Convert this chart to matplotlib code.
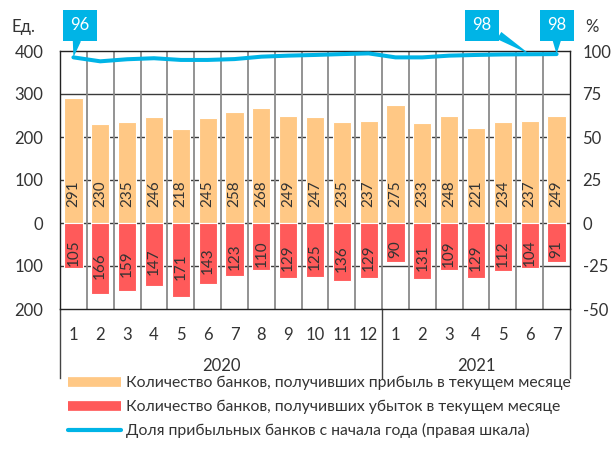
import matplotlib
matplotlib.use("Agg")
import matplotlib.pyplot as plt
from matplotlib.lines import Line2D
import numpy as np

# data
months = ["1", "2", "3", "4", "5", "6", "7", "8", "9", "10", "11", "12",
          "1", "2", "3", "4", "5", "6", "7"]
years = ["2020", "2021"]
year_len = [12, 7]
profit = [291, 230, 235, 246, 218, 245, 258, 268, 249, 247, 235, 237,
          275, 233, 248, 221, 234, 237, 249]
loss = [105, 166, 159, 147, 171, 143, 123, 110, 129, 125, 136, 129,
        90, 131, 109, 129, 112, 104, 91]
share = [96.3, 94.0, 95.2, 95.8, 94.8, 94.8, 95.3, 96.7, 97.3, 97.7, 98.2, 98.6,
         96.3, 96.3, 97.3, 97.7, 98.0, 98.1, 98.2]
callouts = [(0, "96"), (17, "98"), (18, "98")]

ORANGE = "#FFC885"
RED = "#FF5A5A"
BLUE = "#00B4E6"
TXT = "#333333"

plt.rcParams["font.family"] = ["Lato", "DejaVu Sans"]
plt.rcParams["axes.unicode_minus"] = False

fig = plt.figure(figsize=(6.12, 4.5), dpi=100)
ax = fig.add_axes([60 / 612, 1 - 309 / 450, 510 / 612, 258 / 450])
ax2 = ax.twinx()

x = np.arange(len(months))
ax.bar(x, profit, width=0.68, color=ORANGE, edgecolor="white", linewidth=0.8, zorder=3)
ax.bar(x, [-v for v in loss], width=0.68, color=RED, edgecolor="white", linewidth=0.8, zorder=3)

for i in range(len(months)):
    ax.text(x[i], 37, str(profit[i]), rotation=90, ha="center", va="bottom",
            fontsize=11, color=TXT, zorder=4)
    ax.text(x[i], -loss[i] / 2 - 16, str(loss[i]), rotation=90, ha="center", va="center",
            fontsize=11, color=TXT, zorder=4)

ax.set_xlim(-0.5, len(months) - 0.5)
ax.set_ylim(-200, 400)
ax.set_yticks([400, 300, 200, 100, 0, -100, -200])
ax.set_yticklabels(["400", "300", "200", "100", "0", "100", "200"])
ax.set_xticks(x)
ax.set_xticklabels(months)
ax.tick_params(axis="both", length=0, labelsize=12, colors=TXT)
ax.tick_params(axis="y", pad=12)
ax.tick_params(axis="x", pad=13)

# grid
for yv in [300, 200, 100, 0, -100]:
    ax.axhline(yv, color="#3a3a3a", lw=1.0, zorder=1)
for xv in np.arange(0.5, len(months) - 1, 1):
    ax.axvline(xv, color="#8a8a8a", lw=1.3, zorder=1)
for s in ax.spines.values():
    s.set_color("#222222")
    s.set_linewidth(1.0)
for s in ax2.spines.values():
    s.set_visible(False)

# year separators and labels below the axis
start = 0
bounds = [-0.5]
for n in year_len:
    bounds.append(start + n - 0.5)
    start += n
trans = ax.get_xaxis_transform()
for b in bounds:
    ax.add_line(Line2D([b, b], [0, -0.267], transform=trans, color="#444444",
                       lw=1.0, clip_on=False))
for k, yr in enumerate(years):
    ax.text((bounds[k] + bounds[k + 1]) / 2, -0.222, yr, transform=trans,
            ha="center", va="center", fontsize=12, color=TXT)

# right axis: share of profitable banks
ax2.set_ylim(-50, 100)
ax2.set_yticks([100, 75, 50, 25, 0, -25, -50])
ax2.tick_params(axis="y", length=0, labelsize=12, colors=TXT, pad=9)
ax2.plot(x, share, color=BLUE, lw=2.9, solid_capstyle="round", zorder=5)

box_pos = {0: (80, 425), 17: (482, 425), 18: (557, 425)}
for i, lab in callouts:
    ax2.annotate(lab, xy=(x[i], share[i]), xycoords="data",
                 xytext=box_pos[i], textcoords="figure pixels",
                 ha="center", va="center", fontsize=12, color="white",
                 bbox=dict(boxstyle="square,pad=0.45", fc=BLUE, ec="none"),
                 arrowprops=dict(arrowstyle="wedge,tail_width=0.5", fc=BLUE, ec="none",
                                 shrinkA=0, shrinkB=0),
                 annotation_clip=False)

fig.text(23 / 612, 1 - 27 / 450, "Ед.", ha="center", va="center", fontsize=12, color=TXT)
fig.text(592 / 612, 1 - 27 / 450, "%", ha="center", va="center", fontsize=12, color=TXT)

handles = [Line2D([], [], color=ORANGE, lw=7, solid_capstyle="butt"),
           Line2D([], [], color=RED, lw=7, solid_capstyle="butt"),
           Line2D([], [], color=BLUE, lw=3, solid_capstyle="round")]
labels = ["Количество банков, получивших прибыль в текущем месяце",
          "Количество банков, получивших убыток в текущем месяце",
          "Доля прибыльных банков с начала года (правая шкала)"]
fig.legend(handles, labels, loc="upper left", bbox_to_anchor=(68 / 612, 1 - 376 / 450),
           frameon=False, fontsize=11.3, handlelength=3.4, handletextpad=0.3,
           labelspacing=0.6, borderaxespad=0, borderpad=0, labelcolor=TXT)

fig.savefig("out.png", dpi=100)
